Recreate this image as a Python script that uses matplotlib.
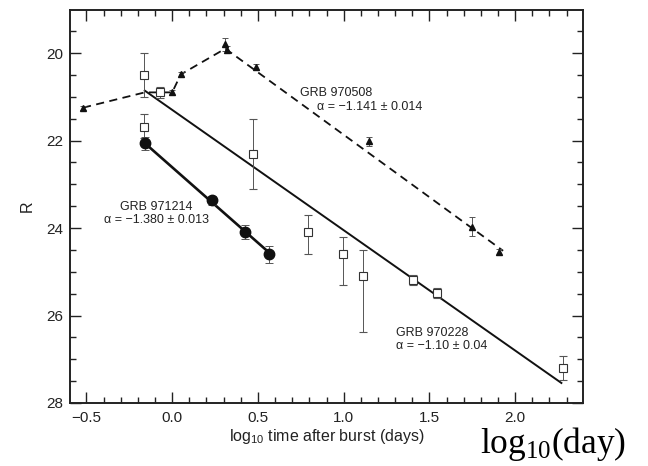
import numpy as np
import matplotlib
matplotlib.use("Agg")
import matplotlib.pyplot as plt
from matplotlib.ticker import MultipleLocator

# ---- GRB 970508: filled triangles ----
grb970508_x = [-0.52, 0.00, 0.05, 0.31, 0.32, 0.49, 1.15, 1.75, 1.905]
grb970508_R = [21.25, 20.90, 20.49, 19.80, 19.93, 20.31, 22.02, 23.97, 24.55]
grb970508_err = [0.05, 0.05, 0.05, 0.15, 0.08, 0.07, 0.10, 0.22, 0.06]
# early (rising) part of the light curve, then a power-law decay
grb970508_rise_x = [-0.52, -0.16, 0.00, 0.05, 0.31]
grb970508_rise_R = [21.25, 20.90, 20.90, 20.49, 19.90]
grb970508_alpha = -1.141
grb970508_decay_end = 1.93

# ---- GRB 970228: open squares ----
grb970228_x = [-0.163, -0.163, -0.07, 0.47, 0.79, 0.996, 1.113, 1.406, 1.545, 2.28]
grb970228_R = [20.50, 21.70, 20.90, 22.30, 24.10, 24.60, 25.10, 25.19, 25.49, 27.20]
grb970228_err_lo = [0.50, 0.30, 0.12, 0.80, 0.40, 0.40, 0.60, 0.12, 0.12, 0.27]
grb970228_err_hi = [0.50, 0.25, 0.12, 0.80, 0.50, 0.70, 1.28, 0.12, 0.12, 0.27]
grb970228_alpha = -1.10
grb970228_fit_x = [-0.16, 2.27]
grb970228_fit_R0 = 20.86

# ---- GRB 971214: filled circles ----
grb971214_x = [-0.157, 0.233, 0.427, 0.565]
grb971214_R = [22.06, 23.37, 24.08, 24.60]
grb971214_err = [0.15, 0.10, 0.16, 0.20]
grb971214_alpha = -1.380
grb971214_fit_x = [-0.16, 0.565]
grb971214_fit_R0 = 22.06


def powerlaw_mag(x, x0, R0, alpha):
    """R magnitude for a flux decaying as t**alpha (log10 t on x)."""
    x = np.asarray(x, dtype=float)
    return R0 - 2.5 * alpha * (x - x0)


plt.rcParams["font.family"] = ["Liberation Sans", "DejaVu Sans"]

fig = plt.figure(figsize=(6.48, 4.66), dpi=100)
ax = fig.add_axes([70 / 648, 63 / 466, 513 / 648, 393 / 466])

ink = "#111111"
ebar = "#555555"

# GRB 970508 model curve (dashed)
decay_x = np.array([grb970508_rise_x[-1], grb970508_decay_end])
decay_R = powerlaw_mag(decay_x, grb970508_rise_x[-1], grb970508_rise_R[-1],
                       grb970508_alpha)
curve_x = list(grb970508_rise_x) + [decay_x[-1]]
curve_R = list(grb970508_rise_R) + [decay_R[-1]]
ax.plot(curve_x, curve_R, color=ink, lw=1.3, ls=(0, (4.5, 3.0)), zorder=2)

# GRB 970228 fit (solid)
fx = np.array(grb970228_fit_x)
ax.plot(fx, powerlaw_mag(fx, fx[0], grb970228_fit_R0, grb970228_alpha),
        color=ink, lw=1.4, zorder=2)

# GRB 971214 fit (solid, thicker)
fx = np.array(grb971214_fit_x)
ax.plot(fx, powerlaw_mag(fx, fx[0], grb971214_fit_R0, grb971214_alpha),
        color=ink, lw=1.9, zorder=2)

# data points
ax.errorbar(grb970508_x, grb970508_R, yerr=grb970508_err, fmt="^",
            ms=5, color=ink, mfc=ink, mec=ink, ecolor=ebar, elinewidth=0.7,
            capsize=2.5, capthick=0.7, zorder=4)
ax.errorbar(grb970228_x, grb970228_R,
            yerr=[grb970228_err_lo, grb970228_err_hi], fmt="s",
            ms=6, mfc="white", mec="#333333", mew=0.8, ecolor=ebar,
            elinewidth=0.7, capsize=3, capthick=0.7, zorder=4)
ax.errorbar(grb971214_x, grb971214_R, yerr=grb971214_err, fmt="o",
            ms=7.5, color=ink, mfc=ink, mec=ink, ecolor=ebar, elinewidth=0.7,
            capsize=3, capthick=0.7, zorder=4)

# labels on the curves
tkw = dict(fontsize=9, color="#222222", ha="left", va="center")
ax.text(0.747, 20.91, "GRB 970508", **tkw)
ax.text(0.846, 21.23, "α = −1.141 ± 0.014", **tkw)
ax.text(-0.307, 23.52, "GRB 971214", **tkw)
ax.text(-0.40, 23.82, "α = −1.380 ± 0.013", **tkw)
ax.text(1.306, 26.40, "GRB 970228", **tkw)
ax.text(1.306, 26.70, "α = −1.10 ± 0.04", **tkw)

# axes
ax.set_xlim(-0.596, 2.396)
ax.set_ylim(28.0, 19.017)
ax.xaxis.set_major_locator(MultipleLocator(0.5))
ax.xaxis.set_minor_locator(MultipleLocator(0.1))
ax.yaxis.set_major_locator(MultipleLocator(2))
ax.yaxis.set_minor_locator(MultipleLocator(0.5))
ax.tick_params(which="both", direction="in", top=True, right=True,
               colors="#222222", width=1.0, labelsize=11)
ax.tick_params(which="major", length=8)
ax.tick_params(which="minor", length=4)
ax.tick_params(axis="y", pad=5)
ax.tick_params(axis="x", pad=6)
for s in ax.spines.values():
    s.set_linewidth(1.4)
    s.set_color("#222222")

ax.set_xlabel(r"$\mathregular{log_{10}}$ time after burst (days)",
              fontsize=11.5, color="#222222")
ax.set_ylabel("R", fontsize=11.5, color="#222222")
ax.xaxis.set_label_coords(0.5, -0.062)
ax.yaxis.set_label_coords(-0.068, 0.5)

# unit note in the lower right corner
fig.text(480 / 648, 1 - 453 / 466, r"$\mathregular{log_{10}(day)}$",
         fontsize=25.5, family="Liberation Serif", color="black",
         ha="left", va="baseline")

fig.savefig("out.png", dpi=100)
